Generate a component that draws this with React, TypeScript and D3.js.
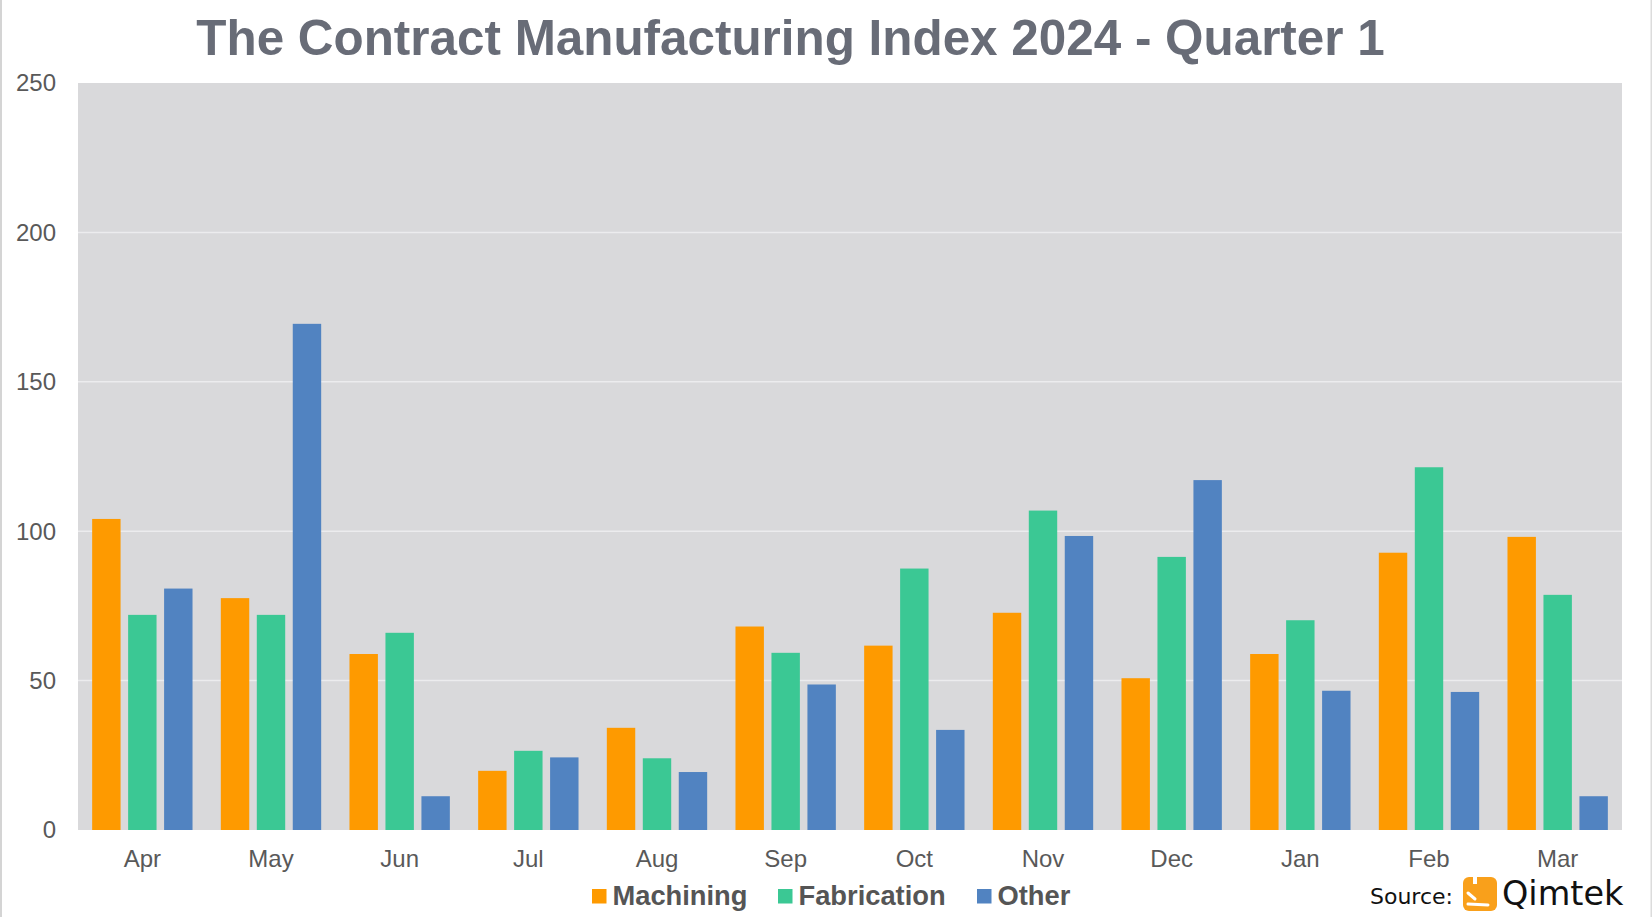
import React, { useEffect, useRef } from 'react'
import * as d3 from 'd3'

const months = ['Apr', 'May', 'Jun', 'Jul', 'Aug', 'Sep', 'Oct', 'Nov', 'Dec', 'Jan', 'Feb', 'Mar']
const seriesNames = ['Machining', 'Fabrication', 'Other']
const machining = [104.1, 77.6, 58.9, 19.8, 34.2, 68.1, 61.7, 72.7, 50.8, 58.9, 92.8, 98.1]
const fabrication = [72.0, 72.0, 66.0, 26.5, 24.0, 59.3, 87.5, 106.9, 91.4, 70.2, 121.4, 78.7]
const other = [80.8, 169.4, 11.3, 24.3, 19.4, 48.7, 33.5, 98.4, 117.1, 46.6, 46.2, 11.3]
const yTicks = [0, 50, 100, 150, 200, 250]
const colors = ['#fe9a00', '#3bc894', '#5183c1']

const W = 1652
const H = 917

const App: React.FC = () => {
  const svgRef = useRef<SVGSVGElement>(null)

  useEffect(() => {
    document.body.style.margin = '0'
    const svg = d3.select(svgRef.current)
    svg.selectAll('*').remove()

    const margin = { top: 83, right: 30, bottom: 87, left: 78 }
    const innerWidth = W - margin.left - margin.right
    const innerHeight = H - margin.top - margin.bottom

    svg.append('rect').attr('width', W).attr('height', H).attr('fill', '#ffffff')
    // frame edges
    svg.append('rect').attr('x', 0).attr('y', 0).attr('width', 2).attr('height', H).attr('fill', '#d4d4d4')
    svg.append('rect').attr('x', W - 1.5).attr('y', 0).attr('width', 1.5).attr('height', H).attr('fill', '#dcdcdc')

    // title
    svg.append('text')
      .attr('x', 790.5)
      .attr('y', 55)
      .attr('text-anchor', 'middle')
      .attr('font-family', 'Liberation Sans, Arial, sans-serif')
      .attr('font-weight', 'bold')
      .attr('font-size', 49.4)
      .attr('fill', '#686c77')
      .text('The Contract Manufacturing Index 2024 - Quarter 1')

    const g = svg.append('g').attr('transform', `translate(${margin.left},${margin.top})`)

    const x0 = d3.scaleBand<string>()
      .domain(months)
      .range([0, innerWidth])
      .paddingInner(0.22)
      .paddingOuter(0.11)

    const x1 = d3.scaleBand<string>()
      .domain(seriesNames)
      .range([0, x0.bandwidth()])
      .paddingInner(0.21)
      .paddingOuter(0)

    const y = d3.scaleLinear().domain([0, 250]).range([innerHeight, 0])

    // plot background
    g.append('rect')
      .attr('width', innerWidth)
      .attr('height', innerHeight)
      .attr('fill', '#d9d9db')

    // gridlines
    g.selectAll('.grid')
      .data(yTicks.filter(t => t > 0 && t < 250))
      .enter()
      .append('line')
      .attr('x1', 0)
      .attr('x2', innerWidth)
      .attr('y1', d => y(d))
      .attr('y2', d => y(d))
      .attr('stroke', '#ececee')
      .attr('stroke-width', 1.5)

    // bars
    const allSeries = [machining, fabrication, other]
    months.forEach((m, i) => {
      const group = g.append('g').attr('transform', `translate(${x0(m)},0)`)
      group.selectAll('rect')
        .data(seriesNames.map((s, k) => ({ s, v: allSeries[k][i], c: colors[k] })))
        .enter()
        .append('rect')
        .attr('x', d => x1(d.s) || 0)
        .attr('y', d => y(d.v))
        .attr('width', x1.bandwidth())
        .attr('height', d => innerHeight - y(d.v))
        .attr('fill', d => d.c)
    })

    // y axis labels
    g.selectAll('.ytick')
      .data(yTicks)
      .enter()
      .append('text')
      .attr('x', -22)
      .attr('y', d => y(d))
      .attr('dy', '0.35em')
      .attr('text-anchor', 'end')
      .attr('font-family', 'Liberation Sans, Arial, sans-serif')
      .attr('font-size', 24)
      .attr('fill', '#595959')
      .text(d => d)

    // x axis labels
    g.selectAll('.xtick')
      .data(months)
      .enter()
      .append('text')
      .attr('x', d => (x0(d) || 0) + x0.bandwidth() / 2)
      .attr('y', innerHeight + 37)
      .attr('text-anchor', 'middle')
      .attr('font-family', 'Liberation Sans, Arial, sans-serif')
      .attr('font-size', 24)
      .attr('fill', '#595959')
      .text(d => d)

    // legend
    const legendX = [592, 778, 977]
    seriesNames.forEach((s, k) => {
      svg.append('rect')
        .attr('x', legendX[k])
        .attr('y', 889)
        .attr('width', 14.5)
        .attr('height', 14.5)
        .attr('fill', colors[k])
      svg.append('text')
        .attr('x', legendX[k] + 20.5)
        .attr('y', 904.5)
        .attr('font-family', 'Liberation Sans, Arial, sans-serif')
        .attr('font-weight', 'bold')
        .attr('font-size', 27.3)
        .attr('fill', '#555555')
        .text(s)
    })

    // source
    svg.append('text')
      .attr('x', 1370)
      .attr('y', 904)
      .attr('font-family', 'DejaVu Sans, sans-serif')
      .attr('font-size', 22)
      .attr('fill', '#111111')
      .text('Source:')

    const logo = svg.append('g').attr('transform', 'translate(1463,877)')
    logo.append('rect').attr('width', 34).attr('height', 34).attr('rx', 6).attr('fill', '#f9a01b')
    logo.append('rect').attr('x', 10).attr('y', -1).attr('width', 4).attr('height', 8).attr('fill', '#ffffff')
    logo.append('path')
      .attr('d', 'M5,16 L12,22 M5,27 L25,28')
      .attr('stroke', '#ffffff')
      .attr('stroke-width', 3)
      .attr('stroke-linecap', 'round')
      .attr('fill', 'none')

    svg.append('text')
      .attr('x', 1502)
      .attr('y', 905)
      .attr('font-family', 'DejaVu Sans, sans-serif')
      .attr('font-size', 33.5)
      .attr('fill', '#111111')
      .text('Qimtek')
  }, [])

  return <svg ref={svgRef} width={W} height={H} style={{ display: 'block' }}></svg>
}

export default App
